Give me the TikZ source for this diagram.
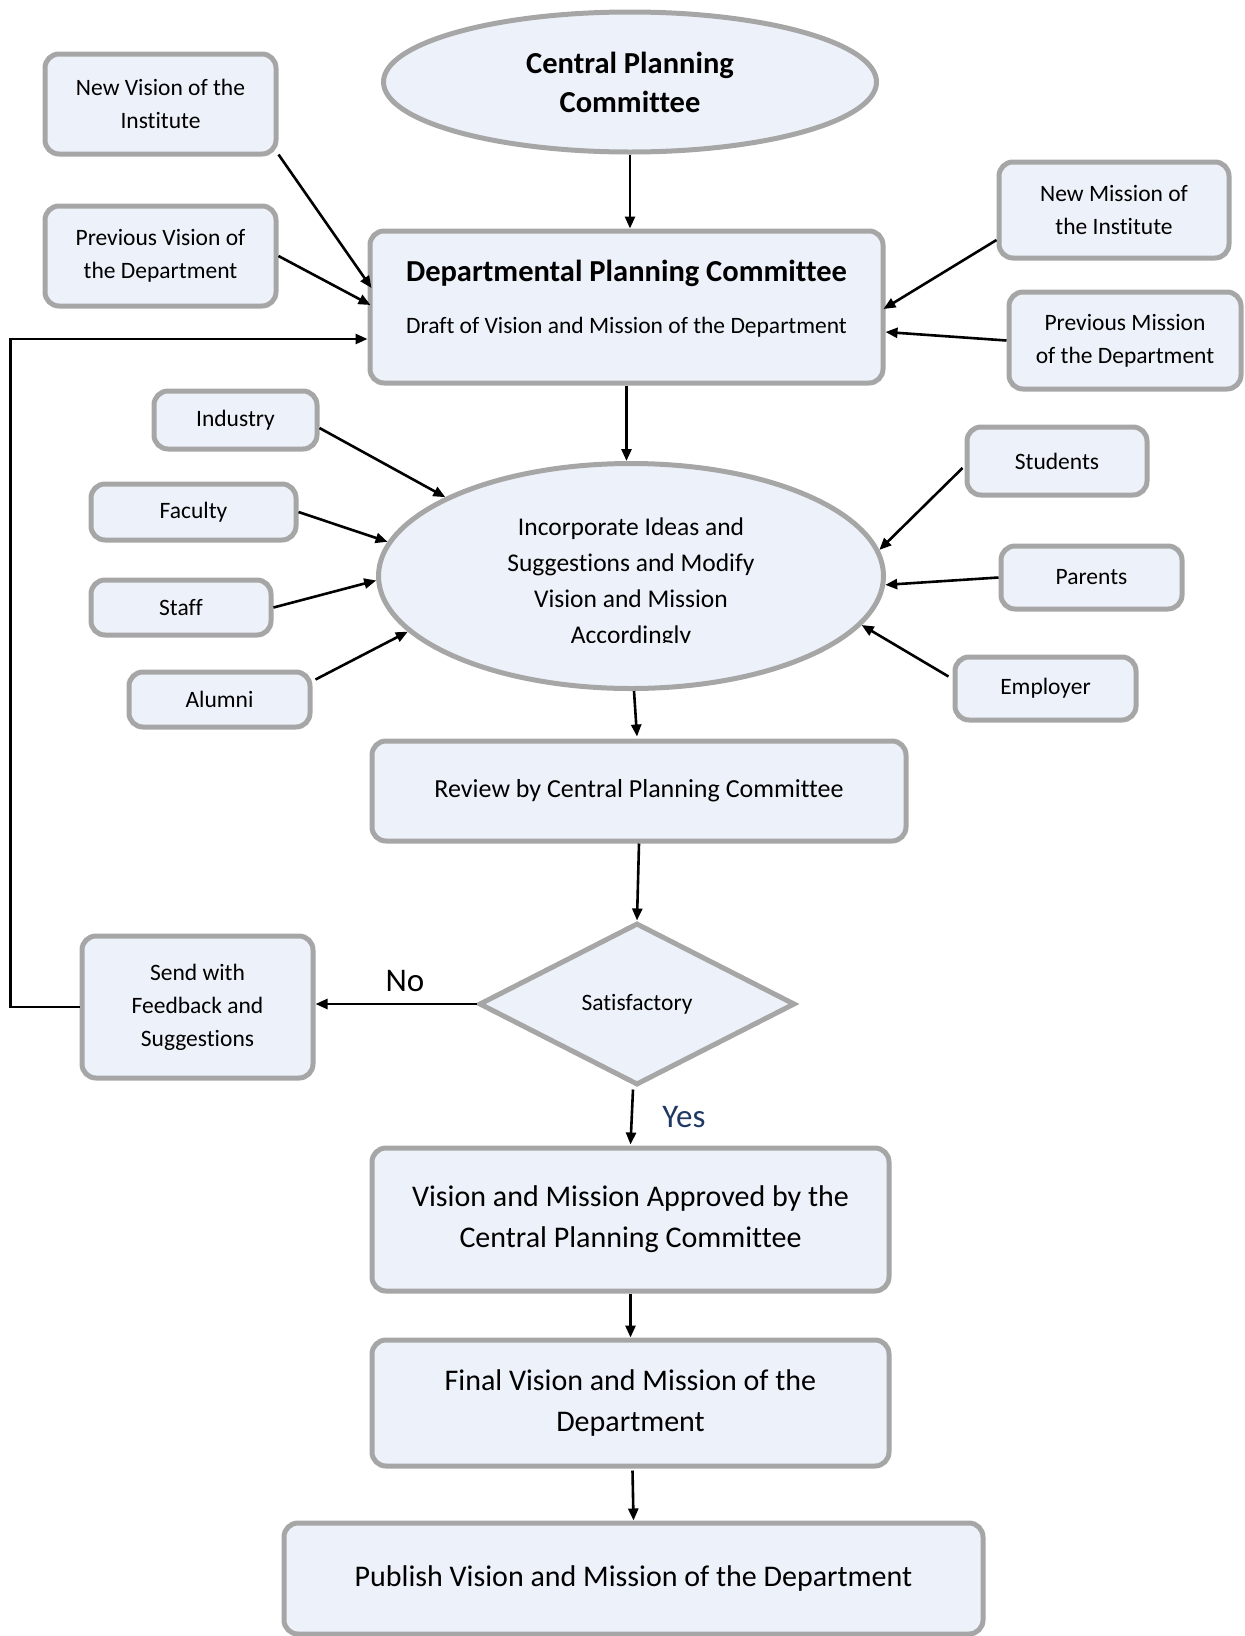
\documentclass[tikz,border=0pt]{standalone}
\usepackage{fontspec}
\setmainfont{Carlito}[Ligatures=NoCommon]
\usetikzlibrary{shapes.geometric,arrows.meta,calc}
\definecolor{boxfill}{HTML}{EDF1F9}
\definecolor{boxline}{HTML}{A6A6A6}
\definecolor{yesblue}{HTML}{1F3864}
\newcommand{\fsmall}{\fontsize{23.5}{33}\selectfont}
\newcommand{\fmid}{\fontsize{25.5}{36}\selectfont}
\newcommand{\frev}{\fontsize{26}{34}\selectfont}
\newcommand{\fbig}{\fontsize{30}{41}\selectfont}
\newcommand{\fbold}{\fontsize{30.5}{39}\selectfont\bfseries}
\newcommand{\flab}{\fontsize{33}{40}\selectfont}
\begin{document}
\begin{tikzpicture}[x=1pt,y=-1pt,
  box/.style={draw=boxline,line width=5pt,fill=boxfill,rounded corners=14pt,
    inner sep=0pt,align=center},
  oval/.style={ellipse,draw=boxline,line width=5pt,fill=boxfill,inner sep=0pt,align=center},
  arr/.style={line width=2.6pt,-{Triangle[length=12pt,width=10pt]}},
  lbl/.style={inner sep=0pt,align=center}]
\useasboundingbox (0,0) rectangle (1245,1636);

% main column
\node[oval,minimum width=493pt,minimum height=140pt,font=\fbold] (cpc) at (630,82)
  {Central Planning\\Committee};
\node[box,minimum width=513pt,minimum height=152pt] (dpc) at (626.5,307) {};
\node[lbl,font=\fbold] (dpctitle) at (626.5,273) {Departmental Planning Committee};
\node[lbl,font=\fsmall] (dpcdraft) at (626.5,327) {Draft of Vision and Mission of the Department};

\node[oval,minimum width=505pt,minimum height=225pt] (inc) at (631,576) {};
\begin{scope}
  % the text frame cuts the last line just below its baseline
  \clip (400,480) rectangle (860,642.5);
  \node[lbl,font=\fmid] (inctext) at (631,583)
    {Incorporate Ideas and\\Suggestions and Modify\\Vision and Mission\\Accordingly};
\end{scope}

\node[box,minimum width=534pt,minimum height=100pt,font=\frev] (rev) at (639,791)
  {Review by Central Planning Committee};
\node[diamond,draw=boxline,line width=5pt,fill=boxfill,aspect=1.95,inner sep=0pt,
  minimum width=316pt,minimum height=162pt,font=\fsmall] (sat) at (637,1004) {Satisfactory};
\node[box,minimum width=231pt,minimum height=142pt,font=\fsmall] (snd) at (197.5,1007)
  {Send with\\Feedback and\\Suggestions};
\node[box,minimum width=517pt,minimum height=143pt,font=\fbig] (appr) at (630.5,1219.5)
  {Vision and Mission Approved by the\\Central Planning Committee};
\node[box,minimum width=517pt,minimum height=126pt,font=\fbig] (fin) at (630.5,1403)
  {Final Vision and Mission of the\\Department};
\node[box,minimum width=699pt,minimum height=111pt,font=\fbig] (pub) at (633.5,1578.5)
  {Publish Vision and Mission of the Department};

% inputs to the departmental committee
\node[box,minimum width=231pt,minimum height=100pt,font=\fsmall] (nv) at (160.5,104)
  {New Vision of the\\Institute};
\node[box,minimum width=231pt,minimum height=100pt,font=\fsmall] (pv) at (160.5,256)
  {Previous Vision of\\the Department};
\node[box,minimum width=230pt,minimum height=96pt,font=\fsmall] (nm) at (1114,210)
  {New Mission of\\the Institute};
\node[box,minimum width=232pt,minimum height=97pt,font=\fsmall] (pm) at (1125,340.5)
  {Previous Mission\\of the Department};

% stakeholders
\node[box,minimum width=163pt,minimum height=58pt,font=\fsmall] (ind) at (235.5,420) {Industry};
\node[box,minimum width=205pt,minimum height=56pt,font=\fsmall] (fac) at (193.5,512) {Faculty};
\node[box,minimum width=180pt,minimum height=55pt,font=\fsmall] (stf) at (181,607.5) {Staff};
\node[box,minimum width=181pt,minimum height=55pt,font=\fsmall] (alu) at (219.5,699.5) {Alumni};
\node[box,minimum width=180pt,minimum height=68pt,font=\fsmall] (stu) at (1057,461) {Students};
\node[box,minimum width=181pt,minimum height=63pt,font=\fsmall] (par) at (1091.5,577.5) {Parents};
\node[box,minimum width=181pt,minimum height=63pt,font=\fsmall] (emp) at (1045.5,688.5) {Employer};

% decision labels
\node[lbl,font=\flab] (nolbl) at (405,981) {No};
\node[lbl,font=\flab,text=yesblue] (yeslbl) at (684,1117) {Yes};

\coordinate (loopx) at (10.5,0);

% connectors
\draw[arr] (cpc.south) -- (cpc.south |- dpc.north);
\draw[arr] ($(nv.south east)+(0,-2)$) -- ($(dpc.west)+(4,-19)$);
\draw[arr] (pv.east) -- ($(dpc.west)+(3,-2)$);
\draw[arr] ($(nm.west)+(0,30)$) -- ($(dpc.east)+(-2,2)$);
\draw[arr] (pm.west) -- ($(dpc.east)+(0,25)$);
\draw[arr] (dpc.south) -- (dpc.south |- inc.north);

\draw[arr] ($(ind.east)+(0,8)$) -- (inc.157.6);
\draw[arr] (fac.east) -- (inc.172.4);
\draw[arr] (stf.east) -- (inc.181.8);
\draw[arr] ($(alu.east)+(3,-20)$) -- (inc.194.3);
\draw[arr] ($(stu.west)+(-2,7)$) -- (inc.6.9);
\draw[arr] (par.west) -- (inc.-2.5);
\draw[arr] ($(emp.west)+(-4,-12)$) -- (inc.-12.6);

\draw[arr] ($(inc.south)+(3,0)$) -- ($(rev.north)+(-2,-2)$);
\draw[arr] (rev.south) -- (sat.north);
\draw[arr] (sat.west) -- (sat.west -| snd.east);
\draw[arr] (snd.west) -- (snd.west -| loopx) |- ($(dpc.west)+(0,32)$);
\draw[arr] ($(sat.south)+(-4,2)$) -- ($(appr.north)+(0,-1)$);
\draw[arr] (appr.south) -- (fin.north);
\draw[arr] ($(fin.south)+(2,2)$) -- (pub.north);
\end{tikzpicture}
\end{document}
